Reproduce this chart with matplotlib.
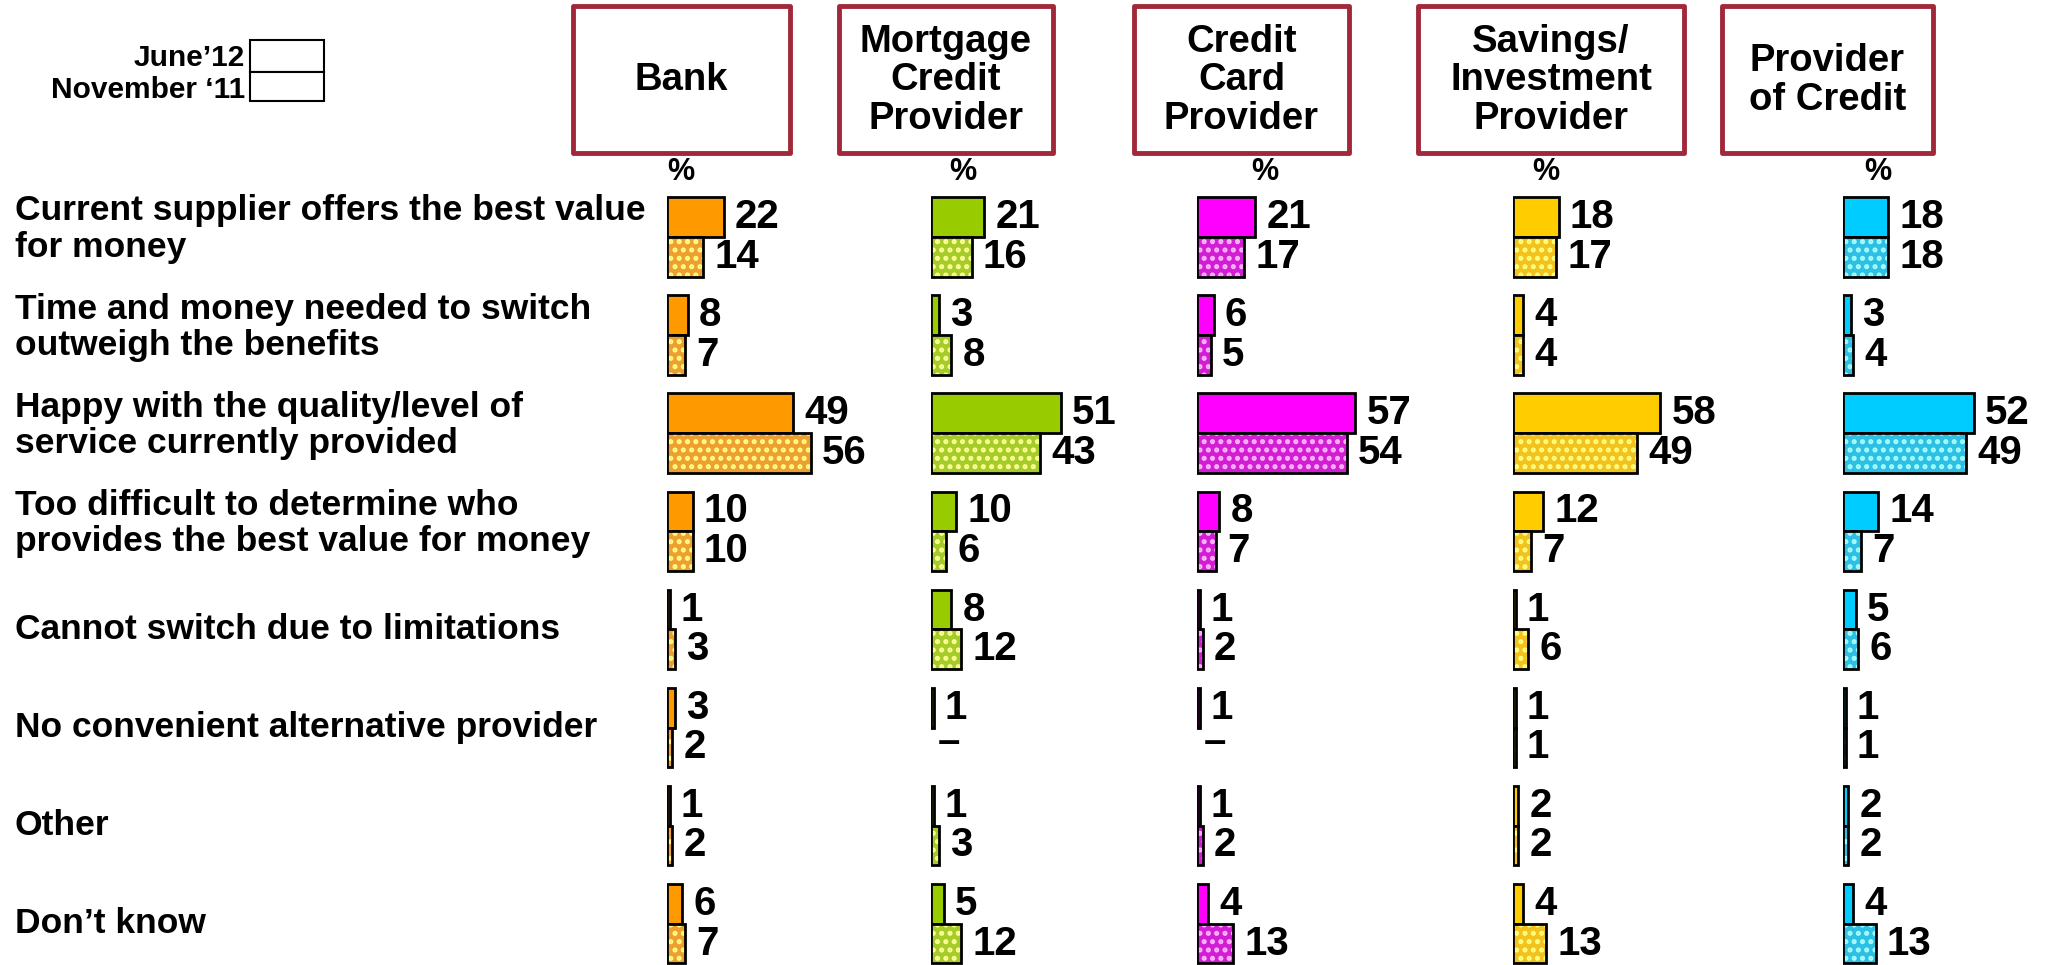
import matplotlib
matplotlib.use("Agg")
import matplotlib.pyplot as plt
from matplotlib.patches import Rectangle
from matplotlib.transforms import blended_transform_factory, offset_copy

plt.rcParams["font.family"] = ["Liberation Sans", "DejaVu Sans"]
plt.rcParams["font.weight"] = "bold"
plt.rcParams["hatch.linewidth"] = 2.4

# ---- data ----
categories = [
    "Current supplier offers the best value\nfor money",
    "Time and money needed to switch\noutweigh the benefits",
    "Happy with the quality/level of\nservice currently provided",
    "Too difficult to determine who\nprovides the best value for money",
    "Cannot switch due to limitations",
    "No convenient alternative provider",
    "Other",
    "Don\u2019t know",
]
panels = ["Bank", "Mortgage\nCredit\nProvider", "Credit\nCard\nProvider",
          "Savings/\nInvestment\nProvider", "Provider\nof Credit"]
series_names = ["June\u201912", "November \u201811"]

june_bank = [22, 8, 49, 10, 1, 3, 1, 6]
june_mortgage = [21, 3, 51, 10, 8, 1, 1, 5]
june_card = [21, 6, 57, 8, 1, 1, 1, 4]
june_savings = [18, 4, 58, 12, 1, 1, 2, 4]
june_credit = [18, 3, 52, 14, 5, 1, 2, 4]

nov_bank = [14, 7, 56, 10, 3, 2, 2, 7]
nov_mortgage = [16, 8, 43, 6, 12, None, 3, 12]
nov_card = [17, 5, 54, 7, 2, None, 2, 13]
nov_savings = [17, 4, 49, 7, 6, 1, 2, 13]
nov_credit = [18, 4, 49, 7, 6, 1, 2, 13]

june_all = [june_bank, june_mortgage, june_card, june_savings, june_credit]
nov_all = [nov_bank, nov_mortgage, nov_card, nov_savings, nov_credit]

june_colors = ["#FF9900", "#99CC00", "#FF00FF", "#FFCC00", "#00CCFF"]
nov_colors = ["#EDA030", "#A6CC2A", "#D21ED2", "#F2C21E", "#2EC0E4"]
dot_colors = ["#FFFF88", "#FFFF99", "#FFB8FF", "#FFFF80", "#A8FFFF"]

# ---- layout (pixels) ----
W, H = 2049, 965
bar_left = [667, 931, 1197, 1513, 1843]
px_per_pct = [2.57, 2.54, 2.78, 2.54, 2.52]
box_x = [(573, 790), (839, 1053), (1134, 1349), (1418, 1684), (1722, 1933)]
box_y = (6, 153)
pct_x = [681, 963, 1265, 1546, 1878]
row0_px = 237
row_step = 98.1
bar_h = 0.405

fig = plt.figure(figsize=(W / 100, H / 100), dpi=100)


def fx(px):
    return px / W


def fy(py):
    return 1 - py / H


ax_top = row0_px - 0.5 * row_step
y_max = (H - row0_px) / row_step
axes = []
for i in range(len(panels)):
    ax = fig.add_axes([fx(bar_left[i]), 0, 100 * px_per_pct[i] / W, fy(ax_top)])
    ax.set_xlim(0, 100)
    ax.set_ylim(y_max, -0.5)
    ax.axis("off")
    axes.append(ax)

    jv = june_all[i]
    y_j = [y - bar_h / 2 for y in range(len(categories))]
    y_n = [y + bar_h / 2 for y in range(len(categories)) if nov_all[i][y] is not None]
    nv = [v for v in nov_all[i] if v is not None]

    ax.barh(y_j, jv, height=bar_h, color=june_colors[i], edgecolor="black", linewidth=2.0)
    ax.barh(y_n, nv, height=bar_h, color=nov_colors[i], edgecolor=dot_colors[i],
            linewidth=0, hatch="..")
    ax.barh(y_n, nv, height=bar_h, color="none", edgecolor="black", linewidth=2.0)

    for y, v in zip(y_j, jv):
        ax.annotate(str(v), (v, y), xytext=(8, 0), textcoords="offset points",
                    ha="left", va="center", fontsize=29, fontweight="bold")
    for y, v in zip(y_n, nv):
        ax.annotate(str(v), (v, y), xytext=(8, 0), textcoords="offset points",
                    ha="left", va="center", fontsize=29, fontweight="bold")
    for y, v in enumerate(nov_all[i]):
        if v is None:
            ax.annotate("\u2013", (0, y + bar_h / 2), xytext=(5, 4), textcoords="offset points",
                        ha="left", va="center", fontsize=29, fontweight="bold")

    # header box
    x0, x1 = box_x[i]
    fig.patches.append(Rectangle((fx(x0), fy(box_y[1])), fx(x1) - fx(x0), fy(box_y[0]) - fy(box_y[1]),
                                 transform=fig.transFigure, facecolor="white",
                                 edgecolor="#A0283A", linewidth=3.5, joinstyle="round"))
    fig.text(fx((x0 + x1) / 2), fy((box_y[0] + box_y[1]) / 2 + 1), panels[i], ha="center", va="center",
             fontsize=27.5, fontweight="bold", linespacing=1.1)
    fig.text(fx(pct_x[i]), fy(172), "%", ha="center", va="center", fontsize=22, fontweight="bold")

# category labels
base = blended_transform_factory(fig.transFigure, axes[0].transData)
trans2 = offset_copy(base, fig=fig, x=0, y=0.08, units="inches")
trans1 = offset_copy(base, fig=fig, x=0, y=0.0, units="inches")
for y, lab in enumerate(categories):
    tr = trans2 if "\n" in lab else trans1
    axes[0].text(fx(15), y, lab, transform=tr, ha="left", va="center",
                 fontsize=25.5, fontweight="bold", linespacing=1.12, clip_on=False)

# legend
fig.text(fx(245), fy(58), series_names[0], ha="right", va="center", fontsize=21.5, fontweight="bold")
fig.text(fx(245), fy(90), series_names[1], ha="right", va="center", fontsize=21.5, fontweight="bold")
for (t, b) in [(40, 72), (72, 101)]:
    fig.patches.append(Rectangle((fx(250), fy(b)), fx(324) - fx(250), fy(t) - fy(b),
                                 transform=fig.transFigure, facecolor="white",
                                 edgecolor="black", linewidth=1.5))

fig.savefig("out.png", dpi=100)
